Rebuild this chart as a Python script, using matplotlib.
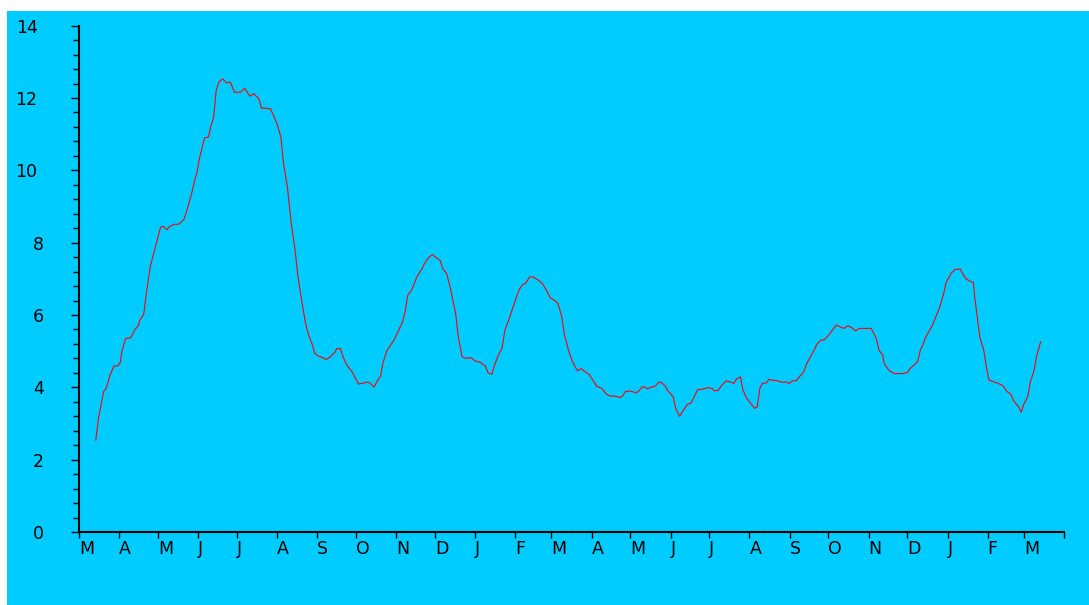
import numpy as np
import matplotlib
matplotlib.use('Agg')
import matplotlib.pyplot as plt
from matplotlib.patches import Rectangle
from matplotlib.ticker import MultipleLocator

# ---------------- data ----------------
start_date = '2021-03-01'
end_date = '2023-04-01'

# days since start_date
days = [13, 15, 19, 21, 24, 27, 30, 32, 33, 36, 40, 43, 46, 47, 50, 52, 55, 59, 61, 63,
        65, 68, 70, 74, 77, 81, 83, 87, 90, 91, 93, 97, 100, 102, 104, 106, 108, 111, 114, 117,
        120, 125, 128, 132, 135, 139, 141, 144, 148, 150, 153, 156, 158, 161, 164, 167, 169, 172, 175, 177,
        180, 182, 185, 187, 191, 194, 198, 199, 202, 204, 207, 211, 213, 216, 220, 223, 225, 228, 230, 233,
        235, 238, 240, 244, 247, 250, 252, 254, 257, 261, 265, 267, 270, 273, 275, 279, 281, 284, 287, 291,
        293, 296, 299, 303, 306, 310, 314, 316, 319, 321, 324, 327, 329, 332, 335, 338, 340, 343, 345, 348,
        351, 355, 358, 361, 364, 368, 370, 373, 375, 379, 382, 385, 388, 391, 394, 397, 400, 404, 407, 410,
        414, 418, 420, 422, 426, 430, 432, 435, 437, 439, 442, 445, 448, 450, 453, 455, 459, 461, 464, 467,
        470, 473, 475, 478, 482, 486, 489, 491, 494, 496, 500, 503, 506, 508, 511, 513, 516, 518, 522, 524,
        526, 528, 531, 533, 536, 540, 543, 546, 549, 551, 554, 557, 560, 562, 565, 568, 570, 573, 576, 578,
        580, 582, 585, 587, 591, 594, 597, 600, 603, 609, 612, 616, 618, 621, 622, 626, 630, 636, 640, 642,
        645, 648, 650, 652, 654, 659, 662, 665, 668, 670, 674, 677, 681, 682, 685, 688, 691, 692, 694, 696,
        699, 701, 703, 707, 710, 714, 717, 720, 722, 726, 728, 730, 733, 735, 738, 740, 743]

values = [2.54, 3.14, 3.88, 3.97, 4.34, 4.59, 4.59, 4.70, 4.98, 5.35, 5.37, 5.58, 5.72, 5.86, 6.02, 6.59, 7.33, 7.88, 8.16, 8.43,
          8.45, 8.36, 8.45, 8.51, 8.51, 8.64, 8.85, 9.36, 9.81, 9.91, 10.32, 10.90, 10.92, 11.24, 11.46, 12.21, 12.44, 12.53, 12.42, 12.44,
          12.16, 12.16, 12.27, 12.05, 12.12, 11.98, 11.72, 11.72, 11.70, 11.54, 11.29, 10.92, 10.19, 9.54, 8.53, 7.79, 7.10, 6.41, 5.77, 5.49,
          5.21, 4.95, 4.86, 4.84, 4.77, 4.84, 4.98, 5.07, 5.07, 4.84, 4.61, 4.43, 4.29, 4.09, 4.12, 4.15, 4.11, 4.01, 4.15, 4.31,
          4.70, 5.03, 5.12, 5.35, 5.58, 5.81, 6.09, 6.55, 6.69, 7.05, 7.28, 7.42, 7.59, 7.67, 7.61, 7.51, 7.28, 7.15, 6.73, 6.04,
          5.40, 4.84, 4.80, 4.82, 4.73, 4.69, 4.59, 4.40, 4.36, 4.61, 4.89, 5.10, 5.58, 5.86, 6.18, 6.50, 6.70, 6.85, 6.87, 7.05,
          7.05, 6.96, 6.87, 6.69, 6.48, 6.39, 6.32, 5.95, 5.46, 4.92, 4.66, 4.46, 4.52, 4.43, 4.36, 4.20, 4.03, 3.97, 3.83, 3.76,
          3.76, 3.72, 3.76, 3.88, 3.90, 3.85, 3.88, 4.01, 4.01, 3.96, 4.00, 4.03, 4.14, 4.14, 4.03, 3.90, 3.74, 3.42, 3.20, 3.37,
          3.53, 3.57, 3.72, 3.94, 3.95, 3.99, 3.97, 3.90, 3.92, 4.03, 4.18, 4.15, 4.11, 4.23, 4.29, 3.92, 3.69, 3.60, 3.42, 3.46,
          3.97, 4.11, 4.12, 4.22, 4.20, 4.18, 4.14, 4.15, 4.11, 4.18, 4.18, 4.31, 4.43, 4.64, 4.84, 5.03, 5.19, 5.30, 5.32, 5.40,
          5.48, 5.58, 5.72, 5.69, 5.63, 5.70, 5.65, 5.56, 5.63, 5.63, 5.63, 5.35, 5.03, 4.89, 4.66, 4.46, 4.38, 4.38, 4.41, 4.52,
          4.61, 4.72, 5.03, 5.18, 5.38, 5.69, 5.95, 6.22, 6.59, 6.91, 7.16, 7.26, 7.27, 7.19, 7.01, 6.94, 6.90, 6.50, 5.95, 5.38,
          5.03, 4.57, 4.20, 4.15, 4.11, 4.04, 3.88, 3.81, 3.63, 3.46, 3.31, 3.54, 3.74, 4.15, 4.48, 4.89, 5.26]

month_labels = ['M', 'A', 'M', 'J', 'J', 'A', 'S', 'O', 'N', 'D', 'J', 'F',
                'M', 'A', 'M', 'J', 'J', 'A', 'S', 'O', 'N', 'D', 'J', 'F', 'M']
y_ticks = [0, 2, 4, 6, 8, 10, 12, 14]

# ---------------- figure ----------------
W, H = 1089, 605
BG = '#00CCFF'
plt.rcParams['font.family'] = ['DejaVu Sans']

fig = plt.figure(figsize=(W / 100, H / 100), dpi=100, facecolor='white')
bg = Rectangle((7 / W, 0), (W - 7) / W, (H - 11) / H,
               transform=fig.transFigure, facecolor=BG,
               edgecolor='none', zorder=-10)
fig.add_artist(bg)

ax = fig.add_axes([79 / W, (H - 532) / H, (1064 - 79) / W, (532 - 25.7) / H])
ax.set_facecolor('none')
ax.set_zorder(5)

start = np.datetime64(start_date)
dates = start + np.array(days).astype('timedelta64[D]')
ax.plot(dates, values, color='#FF0000', lw=0.8, zorder=3)

month_ticks = np.arange(np.datetime64(start_date[:7]), np.datetime64('2023-05'),
                        np.timedelta64(1, 'M')).astype('datetime64[D]')
ax.set_xticks(month_ticks)
ax.set_xticklabels(month_labels + [''], ha='left')
ax.set_xlim(month_ticks[0], np.datetime64(end_date))

ax.set_ylim(0, 14)
ax.set_yticks(y_ticks)
ax.set_yticklabels([str(v) for v in y_ticks])
ax.yaxis.set_minor_locator(MultipleLocator(0.4))

for s in ['top', 'right']:
    ax.spines[s].set_visible(False)
for s in ['left', 'bottom']:
    ax.spines[s].set_linewidth(1.5)
    ax.spines[s].set_color('black')

ax.tick_params(axis='x', which='major', direction='out', length=4.3, width=1.0,
               pad=1.5, labelsize=12.5, colors='black')
ax.tick_params(axis='y', which='major', direction='out', length=5.8, width=1.0,
               labelsize=12.5, colors='black')
ax.tick_params(axis='y', which='minor', direction='out', length=4.3, width=1.0)

for t, v in zip(ax.yaxis.get_major_ticks(), y_ticks):
    t.set_pad(24.0 if v >= 10 else 19.3)

fig.savefig('out.png', dpi=100, facecolor='white')
